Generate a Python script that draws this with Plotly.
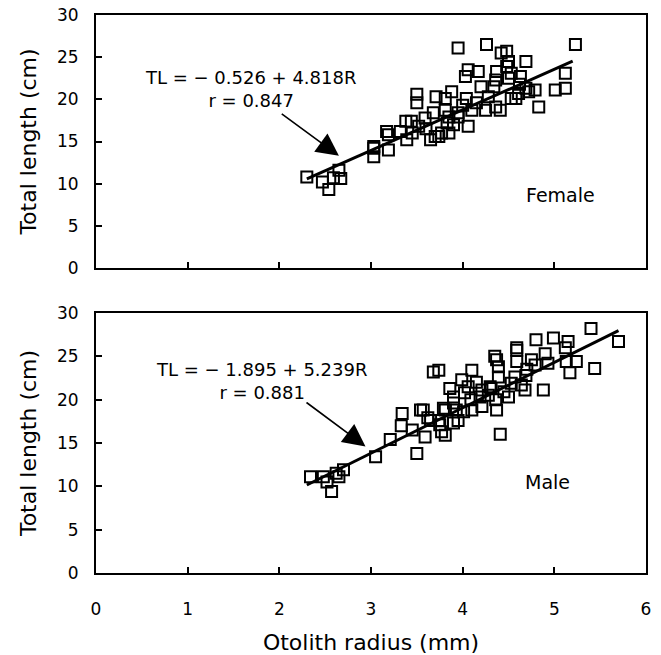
import plotly.graph_objects as go

# ---------------- data ----------------
female_r = [2.30, 2.47, 2.54, 2.59, 2.67, 2.65, 3.03, 3.03, 3.19, 3.17, 3.32, 3.39, 3.44, 3.52,
            3.50, 3.50, 3.65, 3.71, 3.68, 3.59, 3.83, 3.77, 3.95, 4.26, 4.48, 4.42, 4.69, 5.23,
            4.06, 4.17, 4.03, 4.37, 4.50, 4.48, 5.12, 5.12, 5.01, 4.83, 4.79, 3.88, 4.04, 4.10,
            4.25, 4.20, 4.36, 4.50, 4.61, 4.69, 4.06, 3.90, 4.36, 4.53, 3.38, 3.19, 3.03, 3.70,
            3.95, 3.81, 4.53, 4.63, 4.34, 4.72, 4.41, 4.58, 3.81, 3.85, 3.95, 3.85, 3.74, 4.15,
            4.28, 3.60, 3.45, 4.00, 4.62]
female_tl = [10.8, 10.2, 9.3, 10.7, 10.6, 11.6, 14.2, 13.2, 14.0, 16.2, 16.2, 15.2, 17.4, 16.8,
             19.6, 20.6, 15.2, 20.3, 18.4, 17.8, 17.2, 16.0, 26.1, 26.5, 25.7, 25.5, 24.5, 26.5,
             23.5, 23.3, 22.7, 23.3, 24.5, 23.9, 23.1, 21.3, 21.1, 19.1, 21.1, 20.9, 20.1, 18.7,
             18.7, 21.5, 22.3, 22.5, 20.7, 21.3, 16.8, 17.0, 19.1, 20.1, 17.4, 15.8, 14.4, 15.6,
             18.4, 18.7, 23.1, 22.7, 21.5, 20.9, 18.7, 20.1, 20.1, 17.9, 17.9, 16.0, 15.6, 19.6,
             20.3, 16.5, 16.0, 19.3, 21.8]

male_r = [2.34, 2.48, 2.52, 2.57, 2.62, 2.65, 2.70, 3.05, 3.21, 3.50, 3.34, 3.33, 3.57, 3.65,
          3.59, 3.68, 3.74, 3.79, 3.90, 3.99, 4.10, 4.06, 3.90, 3.77, 3.93, 4.10, 4.21, 4.19,
          4.30, 4.37, 4.39, 4.59, 4.59, 4.80, 4.99, 5.15, 5.40, 5.44, 5.24, 5.13, 4.90, 4.75,
          4.69, 4.88, 4.68, 4.53, 4.50, 4.37, 4.21, 4.36, 4.41, 5.70, 4.59, 4.35, 4.01, 3.95,
          3.90, 4.09, 3.74, 3.81, 3.86, 3.75, 3.81, 3.54, 4.64, 4.45, 4.28, 4.39, 4.57, 4.79,
          4.93, 5.12, 5.17, 4.31, 3.45, 3.62, 4.02, 4.15, 4.70]
male_tl = [11.1, 11.1, 10.5, 9.4, 11.5, 11.1, 11.9, 13.4, 15.4, 13.8, 18.4, 17.0, 18.8, 17.6,
           15.7, 23.2, 23.4, 19.0, 20.3, 22.3, 23.4, 21.5, 17.3, 16.3, 18.8, 18.8, 19.2, 20.3,
           21.5, 24.6, 23.8, 25.7, 24.4, 26.9, 27.1, 26.7, 28.2, 23.6, 24.4, 24.4, 25.3, 24.6,
           22.8, 21.1, 21.1, 21.9, 20.3, 18.8, 21.1, 20.0, 16.0, 26.7, 26.0, 25.0, 18.6, 17.6,
           19.6, 20.0, 17.6, 18.8, 21.3, 17.1, 15.9, 18.8, 21.7, 20.9, 20.5, 22.6, 22.6, 24.0,
           24.2, 26.0, 23.1, 21.3, 16.5, 17.9, 20.8, 22.0, 23.5]

female_fit = {"a": -0.526, "b": 4.818, "r": 0.847, "x_range": [2.3, 5.2]}
male_fit = {"a": -1.895, "b": 5.239, "r": 0.881, "x_range": [2.3, 5.7]}

x_ticks = [0, 1, 2, 3, 4, 5, 6]
y_ticks = [0, 5, 10, 15, 20, 25, 30]

FONT = "DejaVu Sans"

fig = go.Figure()

marker = dict(symbol="square-open", size=11, color="black", line=dict(width=2, color="black"))

fig.add_trace(go.Scatter(x=female_r, y=female_tl, mode="markers", marker=marker,
                         xaxis="x", yaxis="y", showlegend=False))
fig.add_trace(go.Scatter(x=male_r, y=male_tl, mode="markers", marker=marker,
                         xaxis="x2", yaxis="y2", showlegend=False))

for fit, xa, ya in [(female_fit, "x", "y"), (male_fit, "x2", "y2")]:
    xs = fit["x_range"]
    ys = [fit["a"] + fit["b"] * v for v in xs]
    fig.add_trace(go.Scatter(x=xs, y=ys, mode="lines", line=dict(color="black", width=3),
                             xaxis=xa, yaxis=ya, showlegend=False))

axis_common = dict(range=[0, 6], tickvals=x_ticks, ticks="inside", ticklen=6, tickwidth=1.5,
                   tickcolor="black", showline=True, linecolor="black", linewidth=2,
                   mirror=True, showgrid=False, zeroline=False, automargin=False,
                   tickfont=dict(family=FONT, size=17, color="black"))
yaxis_common = dict(range=[0, 30], tickvals=y_ticks, ticks="inside", ticklen=6, tickwidth=1.5,
                    tickcolor="black", showline=True, linecolor="black", linewidth=2,
                    mirror=True, showgrid=False, zeroline=False, ticklabelstandoff=12,
                    automargin=False,
                    tickfont=dict(family=FONT, size=17, color="black"),
                    title=dict(text="Total length (cm)", standoff=14,
                               font=dict(family=FONT, size=22, color="black")))

def eq_text(fit):
    sign = "−" if fit["a"] < 0 else "+"
    return f"TL = {sign} {abs(fit['a']):.3f} + {fit['b']:.3f}R<br>r = {fit['r']:.3f}"

annotations = [
    dict(x=1.68, y=21.2, xref="x", yref="y", text=eq_text(female_fit), showarrow=False,
         font=dict(family=FONT, size=18, color="black"), align="center"),
    dict(x=2.65, y=13.3, xref="x", yref="y", ax=2.01, ay=18.4, axref="x", ayref="y",
         text="", showarrow=True, arrowhead=2, arrowsize=2.8, arrowwidth=1.6, arrowcolor="black"),
    dict(x=5.07, y=8.7, xref="x", yref="y", text="Female", showarrow=False,
         font=dict(family=FONT, size=19, color="black")),
    dict(x=1.80, y=22.2, xref="x2", yref="y2", text=eq_text(male_fit), showarrow=False,
         font=dict(family=FONT, size=18, color="black"), align="center"),
    dict(x=2.94, y=14.6, xref="x2", yref="y2", ax=2.28, ay=19.8, axref="x2", ayref="y2",
         text="", showarrow=True, arrowhead=2, arrowsize=2.8, arrowwidth=1.6, arrowcolor="black"),
    dict(x=4.93, y=10.5, xref="x2", yref="y2", text="Male", showarrow=False,
         font=dict(family=FONT, size=19, color="black")),
]

fig.update_layout(
    width=661, height=655,
    margin=dict(l=96, r=15, t=15, b=82),
    paper_bgcolor="white", plot_bgcolor="white",
    font=dict(family=FONT, color="black"),
    xaxis=dict(axis_common, domain=[0, 1], anchor="y", showticklabels=False),
    yaxis=dict(yaxis_common, domain=[0.5466, 1], anchor="x"),
    xaxis2=dict(axis_common, domain=[0, 1], anchor="y2", ticklabelstandoff=20,
                title=dict(text="Otolith radius (mm)", standoff=18,
                           font=dict(family=FONT, size=22, color="black"))),
    yaxis2=dict(yaxis_common, domain=[0, 0.466], anchor="x2"),
    annotations=annotations,
)

fig.write_html("out.html")
